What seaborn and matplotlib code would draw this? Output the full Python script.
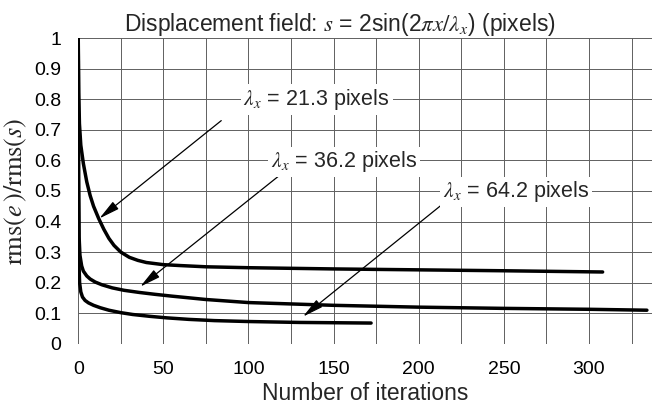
import matplotlib
matplotlib.use("Agg")
import matplotlib.pyplot as plt
import numpy as np
import pandas as pd
import seaborn as sns

# iterations / normalised rms error for each wavelength
iter_213 = [0, 0.3, 0.7, 1.5, 3, 5, 7, 9, 12, 15, 18, 21, 25, 30, 35, 40, 50, 60, 75, 100,
            150, 200, 250, 308]
err_213 = [1.0, 0.82, 0.72, 0.65, 0.59, 0.53, 0.485, 0.45, 0.41, 0.375, 0.345, 0.322, 0.30,
           0.283, 0.273, 0.266, 0.259, 0.256, 0.252, 0.249, 0.245, 0.242, 0.239, 0.235]

iter_362 = [0, 0.2, 0.5, 1, 2, 3, 5, 7, 10, 14, 20, 27, 36, 45, 55, 75, 100, 150, 200, 250,
            300, 334]
err_362 = [1.0, 0.55, 0.35, 0.29, 0.255, 0.238, 0.222, 0.212, 0.202, 0.193, 0.183, 0.175,
           0.168, 0.162, 0.156, 0.145, 0.135, 0.126, 0.12, 0.116, 0.113, 0.11]

iter_642 = [0, 0.15, 0.4, 0.8, 1.5, 2.5, 4, 6, 9, 13, 18, 25, 32, 42, 52, 65, 80, 100, 130, 172]
err_642 = [1.0, 0.5, 0.27, 0.2, 0.17, 0.153, 0.142, 0.134, 0.126, 0.118, 0.11, 0.102, 0.096,
           0.09, 0.085, 0.08, 0.076, 0.073, 0.07, 0.068]

labels = ["21.3", "36.2", "64.2"]

df = pd.concat([
    pd.DataFrame({"iter": iter_213, "err": err_213, "lam": labels[0]}),
    pd.DataFrame({"iter": iter_362, "err": err_362, "lam": labels[1]}),
    pd.DataFrame({"iter": iter_642, "err": err_642, "lam": labels[2]}),
])

sns.set_theme(style="white")
plt.rcParams["font.family"] = ["Liberation Sans", "DejaVu Sans"]
plt.rcParams["mathtext.fontset"] = "stix"

fig = plt.figure(figsize=(6.52, 4.05), dpi=100)
ax = fig.add_axes([0.12, 0.151, 0.88, 0.755])

sns.lineplot(data=df, x="iter", y="err", hue="lam", units="lam", estimator=None,
             palette=["black"] * 3, linewidth=2.5, legend=False, sort=False, ax=ax)

ax.set_xlim(0, 337)
ax.set_ylim(0, 1)
ax.set_xticks(np.arange(0, 301, 50))
ax.set_xticks(np.arange(0, 337, 25), minor=True)
ax.set_yticks(np.arange(0, 1.01, 0.1))
ax.set_yticklabels(["0", "0.1", "0.2", "0.3", "0.4", "0.5", "0.6", "0.7", "0.8", "0.9", "1"])
ax.grid(True, which="both", color="#606060", linewidth=0.7)
ax.set_axisbelow(True)
for s in ax.spines.values():
    s.set_visible(False)
ax.tick_params(axis="both", which="both", length=0, labelsize=14, colors="black")
ax.tick_params(axis="y", pad=12)
ax.tick_params(axis="x", pad=12)

ax.set_xlabel("Number of iterations", fontsize=16.5, labelpad=3)
ax.set_ylabel(r"$\mathrm{rms}(e\,)/\mathrm{rms}(s)$", fontsize=19, labelpad=4)
ax.set_title(r"Displacement field: $s$ = 2sin(2$\pi x/\lambda_x$) (pixels)", fontsize=16.5,
             pad=5, x=0.456)

# annotations: label position, arrow start, arrow tip
text_pos = [(140, 0.80), (156, 0.595), (257, 0.497)]
arrow_from = [(84, 0.73), (118, 0.55), (214, 0.457)]
arrow_to = [(12.4, 0.41), (36.4, 0.187), (132, 0.089)]

for lab, tp, af, at in zip(labels, text_pos, arrow_from, arrow_to):
    ax.text(tp[0], tp[1], r"$\lambda_x$ = " + lab + " pixels", fontsize=15.5, ha="center",
            va="center", bbox=dict(facecolor="white", edgecolor="none", pad=2), zorder=5)
    ax.annotate("", xy=at, xytext=af,
                arrowprops=dict(arrowstyle="-|>,head_length=0.9,head_width=0.2", color="black",
                                lw=0.9, mutation_scale=14, shrinkA=0, shrinkB=0), zorder=4)

fig.savefig("out.png", dpi=100)
